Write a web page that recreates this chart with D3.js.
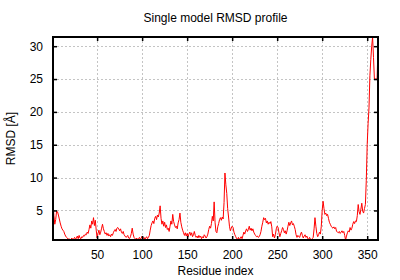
<!DOCTYPE html>
<html>
<head>
<meta charset="utf-8">
<script src="https://cdnjs.cloudflare.com/ajax/libs/d3/7.8.5/d3.min.js"></script>
<style>
    body { margin: 0; background: #fff; }
    text { font-family: "Liberation Sans", Arial, sans-serif; font-size: 12px; fill: #000; }
</style>
</head>
<body>
<div id="rmsd-chart"></div>
<script>

// chart texts
var chartTitle = "Single model RMSD profile";
var xLabel = "Residue index";
var yLabel = "RMSD [Å]";

// tick values
var xTicks = [50, 100, 150, 200, 250, 300, 350];
var yTicks = [5, 10, 15, 20, 25, 30];

// per residue RMSD (residues 1..362)
var rmsd = [
    6.3, 4.2, 2.9, 3.6, 4.9, 4.8, 4.3, 3.7, 3.1, 2.6,
    2.2, 2.0, 1.8, 1.4, 1.1, 0.9, 0.8, 0.6, 0.7, 0.5,
    0.6, 0.8, 0.5, 0.7, 0.9, 0.6, 0.8, 1.1, 0.7, 1.2,
    0.8, 0.7, 1.0, 0.9, 1.2, 1.1, 1.4, 1.3, 1.7, 1.5,
    2.1, 2.8, 2.3, 3.4, 2.9, 3.9, 2.7, 3.5, 2.0, 0.8,
    1.5, 2.0, 1.3, 1.7, 2.3, 2.9, 2.2, 1.8, 1.4, 1.6,
    1.2, 1.5, 1.1, 1.3, 1.0, 1.4, 1.2, 1.6, 1.9, 2.1,
    1.8, 2.3, 2.4, 2.2, 1.9, 2.2, 1.7, 1.5, 1.8, 1.3,
    1.1, 0.9, 1.0, 1.2, 0.8, 0.7, 1.0, 1.5, 2.3, 1.4,
    0.9, 0.7, 0.6, 0.8, 0.5, 0.7, 0.9, 0.6, 0.8, 1.1,
    0.7, 0.9, 0.6, 0.8, 1.0, 0.7, 0.9, 1.2, 2.0, 2.7,
    3.1, 3.4, 3.0, 3.8, 4.1, 3.6, 4.3, 4.0, 4.6, 5.7,
    3.8, 2.9, 3.4, 2.6, 3.2, 2.4, 2.8, 2.1, 2.3, 1.8,
    2.6, 3.4, 2.9, 4.4, 3.3, 2.8, 2.4, 2.6, 2.2, 3.1,
    3.6, 4.6, 3.2, 2.5, 2.0, 1.6, 1.2, 1.6, 1.1, 1.5,
    1.0, 1.4, 1.7, 1.2, 1.6, 1.0, 1.3, 1.8, 1.2, 0.9,
    1.1, 0.8, 1.2, 0.9, 1.1, 0.7, 1.0, 0.8, 1.3, 1.1,
    0.8, 1.0, 1.4, 2.1, 2.6, 2.3, 3.0, 4.1, 3.4, 6.3,
    3.2, 1.8, 1.6, 2.5, 3.0, 3.6, 3.9, 3.5, 4.0, 3.7,
    6.2, 10.7, 8.9, 7.6, 5.3, 4.0, 2.6, 1.9, 2.3, 2.6,
    2.4, 1.7, 1.3, 1.0, 0.7, 0.6, 0.9, 0.5, 0.8, 1.0,
    0.7, 1.2, 1.7, 1.4, 1.9, 2.2, 1.8, 2.1, 2.6, 2.0,
    2.3, 1.9, 2.2, 1.7, 1.4, 1.2, 1.0, 1.1, 0.9, 1.0,
    1.3, 1.8, 2.6, 3.2, 3.9, 3.6, 3.8, 3.1, 3.4, 2.9,
    3.2, 3.0, 3.3, 2.5, 1.0, 1.4, 0.8, 1.3, 2.2, 2.6,
    2.4, 1.6, 1.0, 1.5, 1.9, 2.4, 2.1, 1.6, 1.9, 1.4,
    1.9, 2.6, 3.2, 2.7, 3.1, 3.4, 2.8, 3.0, 2.6, 2.1,
    1.3, 0.9, 1.2, 1.0, 0.9, 1.4, 1.7, 1.2, 0.8, 1.1,
    1.3, 0.9, 1.1, 0.7, 0.6, 0.9, 0.6, 0.5, 0.7, 0.9,
    2.2, 3.9, 2.6, 1.5, 1.0, 1.3, 1.7, 1.4, 2.6, 5.0,
    6.4, 5.3, 4.4, 4.6, 4.2, 4.4, 3.8, 3.2, 2.9, 2.6,
    2.4, 2.3, 2.5, 2.2, 2.4, 1.8, 1.7, 1.6, 1.8, 1.5,
    1.7, 1.9, 1.6, 1.8, 1.2, 0.5, 1.1, 1.6, 1.9, 1.7,
    2.4, 2.0, 2.3, 2.9, 3.3, 3.0, 3.4, 3.3, 4.2, 5.9,
    4.8, 4.4, 5.2, 6.1, 4.9, 4.6, 5.3, 5.9, 9.6, 15.0,
    18.2, 20.6, 25.5, 28.0, 30.0, 31.4, 28.3, 25.0, 25.0, 25.0,
    25.0, 30.0
];
var residues = rmsd.map(function(d, i) { return i + 1; });

var margin = {top: 37, right: 22, bottom: 40, left: 53};
var width = 400 - margin.left - margin.right;
var height = 280 - margin.top - margin.bottom;
var tickLen = 4;

var svg = d3.select("#rmsd-chart").append("svg")
    .attr("width", 400)
    .attr("height", 280);

var g = svg.append("g")
    .attr("transform", "translate(" + margin.left + "," + margin.top + ")");

// scales fixed to the data range (like gnuplot autoscale fix)
var x = d3.scaleLinear()
    .domain(d3.extent(residues))
    .range([0, width]);

var y = d3.scaleLinear()
    .domain(d3.extent(rmsd))
    .range([height, 0]);

// dotted grid
g.selectAll(".grid-x").data(xTicks).enter().append("line")
    .attr("x1", function(d) { return Math.round(x(d)) + 0.5; })
    .attr("x2", function(d) { return Math.round(x(d)) + 0.5; })
    .attr("y1", 0)
    .attr("y2", height)
    .attr("stroke", "#c4c4c4")
    .attr("stroke-dasharray", "2,2");

g.selectAll(".grid-y").data(yTicks).enter().append("line")
    .attr("x1", 0)
    .attr("x2", width)
    .attr("y1", function(d) { return Math.round(y(d)) + 0.5; })
    .attr("y2", function(d) { return Math.round(y(d)) + 0.5; })
    .attr("stroke", "#c4c4c4")
    .attr("stroke-dasharray", "2,2");

// the profile line
var line = d3.line()
    .x(function(d, i) { return x(residues[i]); })
    .y(function(d) { return y(d); });

g.append("path")
    .datum(rmsd)
    .attr("d", line)
    .attr("fill", "none")
    .attr("stroke", "#ff0000")
    .attr("stroke-width", 1);

// axes: ticks pointing inwards, mirrored on the opposite side
var xBottom = d3.axisBottom(x).tickValues(xTicks).tickSizeInner(-tickLen).tickSizeOuter(0).tickPadding(10);
var xTop = d3.axisTop(x).tickValues(xTicks).tickSizeInner(-tickLen).tickSizeOuter(0).tickFormat("");
var yLeft = d3.axisLeft(y).tickValues(yTicks).tickSizeInner(-tickLen).tickSizeOuter(0).tickPadding(10);
var yRight = d3.axisRight(y).tickValues(yTicks).tickSizeInner(-tickLen).tickSizeOuter(0).tickFormat("");

g.append("g").attr("transform", "translate(0," + height + ")").call(xBottom);
g.append("g").call(xTop);
g.append("g").call(yLeft);
g.append("g").attr("transform", "translate(" + width + ",0)").call(yRight);

g.selectAll(".domain").remove();
g.selectAll(".tick line").attr("stroke", "#000").attr("stroke-width", 1.5);
g.selectAll(".tick text").style("font-size", "12px").style("font-family", "'Liberation Sans', Arial, sans-serif").attr("fill", "#000");

// plot border
g.append("rect")
    .attr("x", 0)
    .attr("y", 0)
    .attr("width", width)
    .attr("height", height)
    .attr("fill", "none")
    .attr("stroke", "#000")
    .attr("stroke-width", 2);

// titles
svg.append("text")
    .attr("x", margin.left + width / 2)
    .attr("y", 22)
    .attr("text-anchor", "middle")
    .text(chartTitle);

svg.append("text")
    .attr("x", margin.left + width / 2)
    .attr("y", 275)
    .attr("text-anchor", "middle")
    .text(xLabel);

svg.append("text")
    .attr("transform", "translate(15," + (margin.top + height / 2) + ") rotate(-90)")
    .attr("text-anchor", "middle")
    .text(yLabel);

</script>
</body>
</html>
